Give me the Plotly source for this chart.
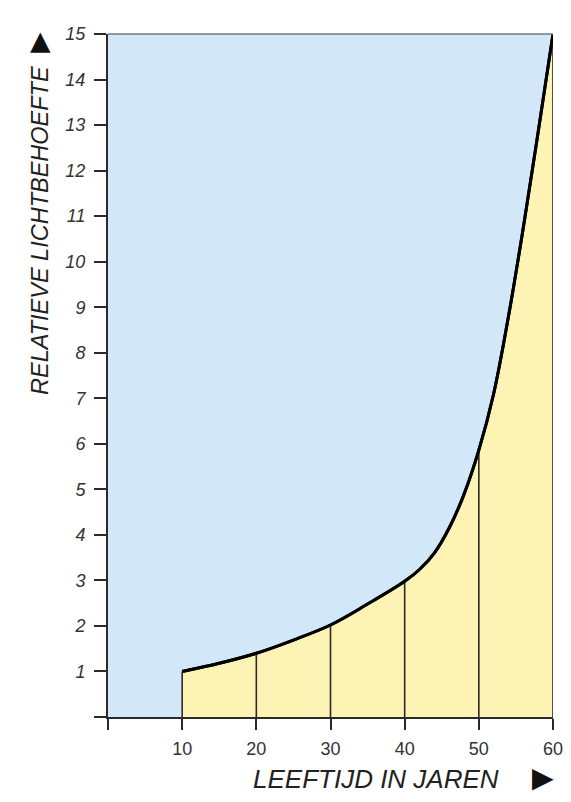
import plotly.graph_objects as go

# Data
age = [10, 15, 20, 25, 30, 35, 40, 42, 44, 46, 48, 50, 52, 54, 56, 58, 60]
light_need = [1.0, 1.18, 1.4, 1.69, 2.02, 2.48, 2.98, 3.24, 3.6, 4.15, 4.89,
              5.86, 7.1, 8.8, 10.75, 12.85, 15.0]
decade_ages = [10, 20, 30, 40, 50, 60]
decade_need = [1.0, 1.4, 2.02, 2.98, 5.86, 15.0]
x_ticks = [0, 10, 20, 30, 40, 50, 60]
x_ticklabels = ["", "10", "20", "30", "40", "50", "60"]
y_ticks = list(range(0, 16))
y_ticklabels = [""] + [str(v) for v in range(1, 16)]

BLUE = "#d2e8f8"
YELLOW = "#fcf3b4"
INK = "#2a2a2a"

fig = go.Figure()

# yellow area under the curve
fig.add_trace(go.Scatter(
    x=age, y=light_need, mode="lines",
    line=dict(color="black", width=3, shape="spline", smoothing=1.0),
    fill="tozeroy", fillcolor=YELLOW, hoverinfo="skip", showlegend=False))

# vertical lines at each decade
vx, vy = [], []
for a, v in zip(decade_ages, decade_need):
    vx += [a, a, None]
    vy += [0, v, None]
fig.add_trace(go.Scatter(x=vx, y=vy, mode="lines",
                         line=dict(color=INK, width=1.6),
                         hoverinfo="skip", showlegend=False))

# re-draw curve on top
fig.add_trace(go.Scatter(
    x=age, y=light_need, mode="lines",
    line=dict(color="black", width=3, shape="spline", smoothing=1.0),
    hoverinfo="skip", showlegend=False))

fig.update_layout(
    width=571, height=802,
    margin=dict(l=108, r=18, t=34, b=85),
    paper_bgcolor="white", plot_bgcolor=BLUE,
    font=dict(family="Liberation Sans, Arial, sans-serif", color=INK),
    xaxis=dict(range=[0, 60], tickvals=x_ticks, ticktext=x_ticklabels,
               ticks="outside", ticklen=11, tickwidth=1.6, tickcolor=INK,
               showline=True, linecolor=INK, linewidth=2, automargin=False,
               showgrid=False, zeroline=False, ticklabelstandoff=3,
               tickfont=dict(size=18, color="#333333")),
    yaxis=dict(range=[0, 15], tickvals=y_ticks, ticktext=y_ticklabels,
               ticks="outside", ticklen=12, tickwidth=1.6, tickcolor=INK,
               showline=True, linecolor=INK, linewidth=2, automargin=False,
               showgrid=False, zeroline=False, ticklabelstandoff=5,
               tickfont=dict(size=18, color="#333333", style="italic")),
    shapes=[dict(type="line", xref="paper", yref="paper", x0=0, x1=1, y0=1, y1=1,
                 line=dict(color="#777777", width=1.5))],
    annotations=[
        dict(text="RELATIEVE LICHTBEHOEFTE", textangle=-90,
             xref="paper", yref="paper", x=-0.1528, y=0.7116,
             xanchor="center", yanchor="middle", showarrow=False,
             font=dict(size=23.5, style="italic", color="#222222")),
        dict(text="►", textangle=-90,
             xref="paper", yref="paper", x=-0.157, y=0.9876,
             xanchor="center", yanchor="middle", showarrow=False,
             font=dict(size=34, color="#111111")),
        dict(text="LEEFTIJD IN JAREN",
             xref="paper", yref="paper", x=0.602, y=-0.0908,
             xanchor="center", yanchor="middle", showarrow=False,
             font=dict(size=26, style="italic", color="#222222")),
        dict(text="►",
             xref="paper", yref="paper", x=0.9775, y=-0.0893,
             xanchor="center", yanchor="middle", showarrow=False,
             font=dict(size=36, color="#111111")),
    ],
)

fig.write_html("out.html", config={"displayModeBar": False},
               post_script="document.body.style.margin='0';document.body.style.overflow='hidden';")
